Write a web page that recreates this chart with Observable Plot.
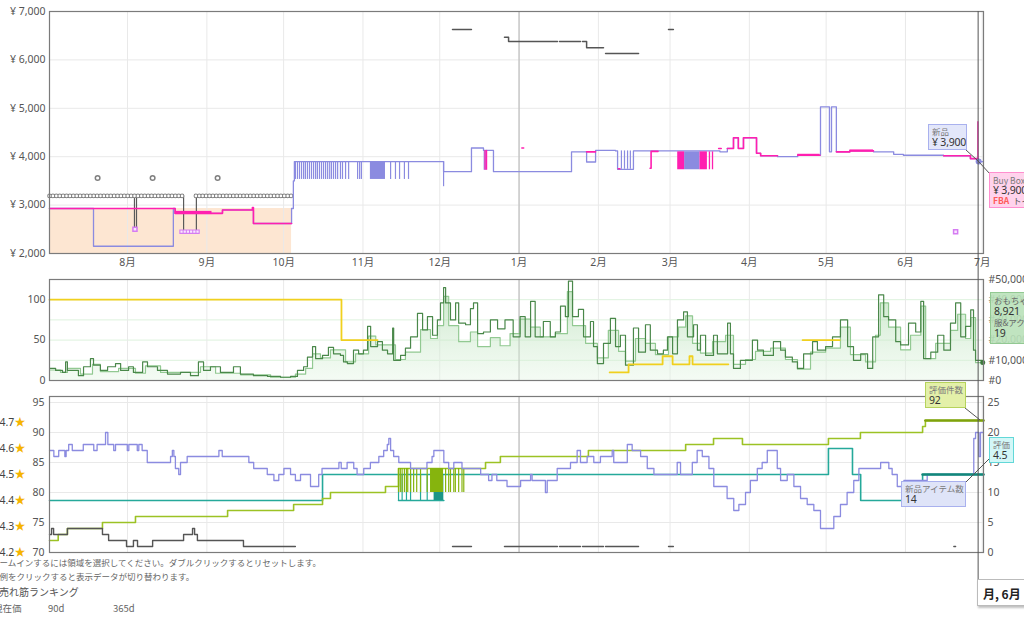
<!DOCTYPE html>
<html lang="ja">
<head>
<meta charset="utf-8">
<script src="https://cdn.jsdelivr.net/npm/d3@7"></script>
<script src="https://cdn.jsdelivr.net/npm/@observablehq/plot@0.6"></script>
<style>
html,body{margin:0;padding:0;background:#fff;}
#wrap{position:relative;width:1024px;height:617px;overflow:hidden;font-family:"Noto Sans","Noto Sans CJK JP",sans-serif;color:#555;}
.panel{position:absolute;left:0;z-index:1;}
.panel svg{display:block;overflow:visible;}
.tip{position:absolute;z-index:5;box-sizing:border-box;padding:1px 3px;line-height:11px;white-space:nowrap;overflow:hidden;font-family:"Noto Sans CJK JP","Noto Sans",sans-serif;}
.tip .k{font-size:8.5px;color:#7a7a7a;}
.tip .v{font-size:10.5px;color:#333;font-family:"Noto Sans","Noto Sans CJK JP",sans-serif;letter-spacing:-0.2px;}
.note{position:absolute;left:0;white-space:nowrap;font-family:"Noto Sans CJK JP",sans-serif;z-index:2;}
</style>
</head>
<body>
<div id="wrap">
  <div class="tip" style="left:928px;top:124px;width:39px;height:26px;background:#e3e7fa;border:1px solid #a9b1ee;"><div class="k">新品</div><div class="v">¥ 3,900</div></div>
  <div class="tip" style="left:989px;top:172px;width:60px;height:36px;padding-top:2px;line-height:10px;background:#ffd3ec;border:1px solid #ff8fcf;"><div class="k">Buy Box</div><div class="v">¥ 3,900</div><div style="font-size:8.5px;color:#555;"><b style="color:#ff5a5a;">FBA</b>&nbsp; トイ</div></div>
  <div class="tip" style="left:990px;top:292px;width:60px;height:52px;padding-top:2px;background:rgba(185,225,185,0.9);border:1px solid #93c993;"><div class="k" style="color:#666;">おもちゃ</div><div class="v">8,921</div><div class="k" style="color:#666;">服&amp;アク</div><div class="v">19</div></div>
  <div class="tip" style="left:925px;top:382px;width:41px;height:26px;background:#e3f0a9;border:1px solid #b6d35c;"><div class="k">評価件数</div><div class="v">92</div></div>
  <div class="tip" style="left:989px;top:437px;width:25px;height:26px;background:#d3f7f7;border:1px solid #62d8d8;"><div class="k">評価</div><div class="v">4.5</div></div>
  <div class="tip" style="left:901px;top:481px;width:65px;height:26px;background:#dfe4f8;border:1px solid #a9b1ee;"><div class="k">新品アイテム数</div><div class="v">14</div></div>
  <div class="tip" style="left:977px;top:579px;width:60px;height:27px;padding:0 0 0 5px;line-height:27px;background:#fff;border:1px solid #bbb;box-shadow:1px 2px 2px rgba(0,0,0,.25);font-weight:bold;font-size:12px;color:#222;">月, 6月</div>

  <div class="note" style="top:556px;left:-9px;font-size:8.5px;color:#666;">ズームインするには領域を選択してください。ダブルクリックするとリセットします。</div>
  <div class="note" style="top:570px;left:-9px;font-size:8.5px;color:#666;">凡例をクリックすると表示データが切り替わります。</div>
  <div class="note" style="top:584px;left:-1px;font-size:10px;color:#555;">売れ筋ランキング</div>
  <div class="note" style="top:601px;left:-7px;font-size:9.5px;color:#666;">現在価</div>
  <div class="note" style="top:601px;left:48px;font-size:9.5px;color:#666;">90d</div>
  <div class="note" style="top:601px;left:113px;font-size:9.5px;color:#666;">365d</div>
</div>
<script>
// ---- axes / ticks ----
const monthLabels = ["8月","9月","10月","11月","12月","1月","2月","3月","4月","5月","6月","7月"];
const monthStartDays = [31,62,92,123,153,184,215,243,274,304,335,365]; // days since 2022-07-01
const yearStartDay = 184;
const priceTicks = [2000,3000,4000,5000,6000,7000];
const countTicks = [0,50,100];
const rankGridTicks = [0,25,50,75,100,125];   // left units; 1 unit = 400 rank
const rankPerUnit = 400;
const reviewTicks = [70,75,80,85,90,95];
const starTicks = [4.2,4.3,4.4,4.5,4.6,4.7];
const crossDay = 363.6;

// ---- top panel: prices (day, yen) ----
const amazonPrice = [[0.5,2930],[95.1,2930]];
const newPrice = [[0.5,2930],[17.7,2150],[48.9,2930],[49.6,2830],[68.1,2900],[80.2,2620],[95.1,2930],[95.8,3500],[96.2,3900],[154.5,3690],[165.4,4180],[170.1,4130],[174,3690],[204.5,4100],[210.4,3890],[213.9,4130],[221.7,4120],[222.5,3740],[228.7,4120],[262.5,4100],[265.4,4170],[267.8,4390],[269.7,4170],[271.7,4390],[276.8,4070],[278.4,4020],[285,4000],[292.9,4030],[301.8,5030],[305.3,4100],[306.1,5030],[308,4100],[313.3,4120],[322.5,4100],[330.4,4050],[334.2,4030],[349.9,4020],[360.4,3960],[363.3,3900],[365.5,3900]];
const newDipDays = [96.6,97.4,98.2,99,99.8,100.5,101.3,102.1,102.9,103.7,104.5,105.2,106,106.8,107.6,108.4,109.2,110,110.7,111.5,112.3,113.1,114.2,115,116.2,117.4,120.9,121.7,122.4,133.8,135.7,137.3,139.2,140.8];
const newDipLow = 3530, newDipHigh = 3900;
const newSpikes = [[154.5,3380,3900],[224,3740,4120],[225.2,3740,4120],[226.4,3740,4120],[227.5,3740,4120],[170.4,3720,4130],[171,3720,4130]];
const newBlocks = [[125.9,131.8,3530,3900],[248.7,254.7,3730,4100]];
const buyBoxRuns = [[0.5,2930,0],[49.6,2830,0],[68.1,2900,0],[79.8,2950,0],[80.2,2620,0],[95.1,2620,0],
  [185.1,4180,1],[185.8,4180,1],
  [210.4,4100,2],[213.9,4100,2],
  [222.8,3750,3],[223.4,3750,3],
  [235.2,3760,4],[235.6,4110,4],[238.3,4110,4],
  [262,4170,5],[263,4170,5],
  [265.4,4170,6],[267.8,4390,6],[269.7,4170,6],[271.7,4390,6],[276.8,4070,6],[278.4,4020,6],[285,4020,6],
  [292.9,4030,7],[301.6,4030,7],
  [308,4100,8],[313.3,4120,8],[322.5,4120,8],
  [349.9,4020,9],[360.4,3960,9],[363.3,3960,9]];
const buyBoxBlocks = [[49.6,64,2805,2870],[246,248.7,3730,4100],[254.7,257.6,3730,4100],[292.9,301.6,4010,4050],[313.3,322.5,4100,4140]];
const buyBoxSpikes = [[170.7,3720,4130],[171.3,3720,4130],[258.4,3730,4100],[259.6,3730,4100],[363.3,3900,4720]];
const listPriceRuns = [[0.5,3190,0],[52.4,3190,0],[57.7,3190,1],[95.9,3190,1]];
const listPriceDips = [[33.7,2500,3190],[34.5,2500,3190],[52.9,2450,3190],[57.9,2450,3190]];
const listPriceSingles = [[19.3,3560],[40.8,3560],[66.2,3560]];
const warehouseRun = [[52.1,2450],[58.7,2450]];
const warehouseSingles = [[33.9,2500],[354.6,2450]];
const usedPriceRuns = [[158,6630,0],[165.4,6630,0],
  [178.3,6470,1],[179.9,6380,1],[199,6380,1],
  [199.8,6380,2],[208,6380,2],
  [208.8,6380,3],[210.4,6250,3],[217,6250,3],
  [217.8,6130,4],[230.7,6130,4],
  [242.4,6630,5],[244.3,6630,5]];

// ---- middle panel: sales rank (day, rank) and count (day, value) ----
const rankToys = [[0.5,6000],[2.9,5000],[5.6,4000],[6.8,9200],[7.5,5000],[11.8,2400],[13.8,6800],[16.5,10800],[17.7,7600],[20.4,5000],[23.2,6800],[26.3,8400],[28.3,5000],[31.4,6800],[33.3,4000],[36.9,9200],[38.8,6800],[42.7,5000],[46.6,3200],[51.7,4000],[55.6,2400],[58.7,9200],[60.7,5000],[63.4,6800],[67.3,4000],[72.4,6800],[75.1,3200],[80.2,2400],[85.7,2000],[90.8,1600],[94.7,2000],[97.4,5000],[99.8,6800],[101.3,11600],[103.3,16800],[104.5,10800],[107.2,12400],[109.5,16400],[111.5,13200],[114.2,12400],[115.4,9200],[116.9,8400],[119.3,15000],[121.3,13200],[123.2,15000],[124.8,26800],[126,16800],[128.7,19200],[130.6,15000],[132.6,13200],[134.6,26000],[135,10000],[137.7,12400],[139.6,16000],[141.6,21600],[144.3,33200],[146.3,25000],[148.2,31600],[150.2,22400],[152.1,30000],[153.3,38400],[154.5,46000],[155.3,38400],[157.2,30000],[159.2,38400],[160.4,28400],[163.1,27600],[165,35600],[166.2,38400],[167.8,23200],[170.1,24000],[172.8,30000],[175.6,25600],[178.5,30000],[181.7,21600],[184.4,31600],[186.4,21600],[188.5,39200],[190.3,21600],[193.5,29200],[196.2,21600],[198.2,24000],[200.2,36800],[202.1,31600],[203.3,49200],[204.9,31600],[207.2,35200],[209.2,21600],[211.9,29200],[213.1,16800],[214.6,8400],[217,18400],[219.7,30800],[221.7,16800],[223.6,22400],[225.6,7600],[228.7,26000],[230.7,14000],[233.4,27600],[235.3,15000],[238.1,13200],[240.4,15000],[242,21600],[244,13200],[245.9,30000],[248.3,34000],[249.8,21600],[252.2,27600],[253.7,15000],[254.9,22400],[256.9,12400],[260,22400],[261.5,13200],[265.5,28400],[266.6,13200],[267.8,6000],[270.5,10000],[275.2,20000],[277.2,15000],[279.5,12400],[283.4,19200],[286.2,15000],[288.1,11600],[290.8,9200],[292.8,6000],[295.2,13200],[298.7,19200],[300.6,15000],[303.8,16800],[306.5,21600],[309.6,30000],[312.4,16800],[314.7,10000],[317.5,13200],[320.2,6000],[322.2,21600],[324.5,42400],[326.5,31600],[328.4,30000],[331.2,19200],[333.1,17600],[336.2,28400],[339,24000],[341,39200],[342.1,10800],[344.9,14000],[347.6,22400],[350,15000],[352.6,28400],[354.6,38400],[356.6,21600],[358.5,26800],[360.5,35000],[361.6,15000],[362.4,10000],[365.1,8921],[365.5,8921]];
const rankApparel = [[0.5,5200],[4.8,4000],[7.5,6000],[12.6,3200],[17.3,8000],[20.4,4400],[27.5,6000],[34.1,3600],[38,7200],[43.9,4000],[59.5,6800],[65.4,3600],[75.2,2800],[86.9,1600],[96.6,3200],[100.6,6000],[103.3,13200],[106.4,11200],[110.3,15200],[116.2,9200],[120.1,13200],[125.2,22000],[128,17600],[135.7,10400],[139.6,14000],[145.5,25200],[149.4,20800],[152.1,27200],[154.5,41600],[156.5,27200],[160.4,19200],[165,24000],[167.8,16800],[172.8,21200],[176.6,17200],[180.5,23200],[184.4,30400],[188.5,26400],[192.3,21600],[198.2,23200],[202.9,44000],[204.9,27200],[210,18400],[214.6,11200],[218.9,24800],[222.9,14400],[225.6,9600],[229.5,20800],[233.4,18400],[237.3,12800],[242.4,21600],[246.3,26400],[249.1,32000],[251.8,18400],[254.9,13600],[259.6,19200],[264.7,22400],[267.8,8000],[272.5,10400],[276.4,14400],[282.3,16000],[288.1,10400],[292.8,5600],[297.9,14000],[303.8,16000],[309.6,26400],[313.5,12800],[319.4,9200],[323.3,22400],[325.2,38400],[328.4,26400],[333.1,15200],[337,22400],[341,36800],[342.9,10800],[346.8,18400],[352.6,24800],[355.4,32800],[358.5,20800],[360.5,31200],[362.4,8800],[365.5,10000]];
const countRuns = [[0.5,100,0],[114.6,50,0],[128.7,50,0],
  [219.4,10,1],[226.8,20,1],[240.1,30,1],[244,20,1],[250.6,30,1],[251.8,20,1],[265.8,20,1],
  [294.8,50,2],[309.3,50,2]];

// ---- bottom panel ----
const reviewCount = [[0.5,72],[3.9,73],[7.5,74],[21.2,75],[34.1,76],[70.1,77],[95.9,78],[107.2,79],[110.3,80],[131.8,81],[136.9,84],[170.9,85],[176.7,86],[211.1,87],[249.1,88],[260,89],[271.3,88],[304.9,89],[317.4,90],[341.7,91],[342.8,92],[365.5,92]];
const reviewFlickerDays = [136.9,137.6,138.3,139.2,140,140.5,141.6,142.8,144,145.5,148.1,155.3,156.5,157.2,158.5,159.1,160.4,161.7,162.4];
const reviewFlickerBlock = [[149.4,154.5,80,84]];
const rating = [[0.5,4.4],[107.2,4.5],[304.9,4.6],[314.3,4.5],[317.5,4.4],[341.7,4.5],[365.5,4.5]];
const ratingLowRun = [[136.9,4.4],[154.6,4.4]];
const ratingFlickerDays = [136.9,138.3,140,141.6,145.5,148.1];
const ratingFlickerBlock = [[150.8,154.6,4.4,4.5]];
const newOfferCount = [[0.5,17],[2.2,16],[4.1,17],[6.5,16],[7,17],[8,18],[9.4,17],[13.7,18],[17.8,17],[19.1,18],[22.4,20],[23.3,18],[25.6,17],[26.3,18],[30.9,17],[31.5,18],[34.8,17],[35.4,18],[36.7,17],[38.7,15],[47.8,16],[48.5,17],[49.1,16],[49.7,14],[51,13],[51.7,15],[54.3,16],[66.7,17],[68,16],[78.4,15],[80.3,14],[85.6,13],[88.2,12],[90.1,13],[92.1,14],[94.7,13],[96.6,12],[98.6,13],[102.5,11],[105.7,13],[107,14],[113.6,15],[114.5,14],[116.8,15],[119.4,14],[120.7,13],[123.3,14],[125.9,15],[129.2,16],[131.1,17],[132.5,18],[133.1,19],[133.8,17],[135,16],[137,15],[141.6,14],[148,15],[150,16],[150.7,17],[154.6,15],[156.5,14],[158.5,15],[161.7,14],[169,13],[172.1,12],[173.4,13],[175.3,12],[179.3,11],[184.6,12],[188.5,13],[189.1,12],[194.3,10],[195,12],[198.9,14],[204.1,15],[206.7,17],[208,15],[210.6,16],[213.2,15],[215.8,16],[220.4,17],[221,15],[226.3,18],[228.2,17],[231.5,16],[234.1,14],[236.7,13],[245.8,15],[247.1,13],[251.7,15],[253.6,17],[255.6,16],[258.2,14],[260.1,11],[265.3,9],[267.9,7],[269.9,8],[272.5,10],[274.4,12],[277.1,14],[279,15],[281,17],[284.9,14],[286.2,12],[288.8,13],[291.4,11],[294,9],[296.6,8],[299.2,7],[301.8,4],[307,6],[309.6,8],[312.2,10],[314.8,12],[316.8,14],[325.3,15],[328.5,14],[329.8,13],[331.8,11],[334.4,12],[343.5,13],[361.7,19],[362.4,20],[363.7,16],[364.3,20],[365.5,20]];
const usedOfferRuns = [[0.5,3,0],[1.3,4,0],[2.1,3,0],[7.5,4,0],[21.2,3,0],[23.6,2,0],[30.6,1,0],[33.3,2,0],[34.9,1,0],[40.8,2,0],[52.9,3,0],[56.4,4,0],[57.2,3,0],[58.3,2,0],[76.3,1,0],[96.6,1,0],
  [158,1,1],[165.4,1,1],[178.3,1,2],[199,1,2],[199.8,1,3],[208,1,3],[208.8,1,4],[217,1,4],[217.8,1,5],[230.7,1,5],[242.4,1,6],[244.3,1,6],[353.9,1,7],[354.6,1,7]];

// ---- helpers ----
const X0 = Date.UTC(2022, 6, 1);
const D = d => new Date(X0 + d * 864e5);
const P = d => D(d[0]);
const V = d => d[1];
const monthDates = monthStartDays.map(D);
const monthFmt = d => monthLabels[monthDates.findIndex(t => +t === +d)];
const xScale = {type: "utc", domain: [D(0.5), D(365.5)], axis: null};
const baseStyle = {background: "transparent", fontFamily: "'Noto Sans','Noto Sans CJK JP',sans-serif", fontSize: "10.5px", color: "#555", overflow: "visible"};
const gridX = () => [Plot.ruleX(monthDates, {stroke: "#e9e9e9"}), Plot.ruleX([D(yearStartDay)], {stroke: "#b3b3b3"})];
const C = {blue: "#8b8be0", pink: "#ff1fb0", green: "#9cc224", teal: "#25a99a", gray: "#555", dkGreen: "#4a884a", ltGreen: "#92c992", yellow: "#f0d01e"};

// ---- top ----
const topPlot = Plot.plot({
  width: 1024, height: 275, marginLeft: 49, marginRight: 41, marginTop: 11, marginBottom: 22,
  x: xScale, y: {domain: [2000, 7000], axis: null}, style: baseStyle,
  marks: [
    Plot.areaY(amazonPrice, {x: P, y1: 2000, y2: V, curve: "step-after", fill: "#fde6d2"}),
    Plot.ruleY(priceTicks, {stroke: "#e9e9e9"}),
    ...gridX(),
    Plot.ruleX(listPriceDips, {x: P, y1: d => d[1], y2: d => d[2], stroke: "#5a5a5a", strokeWidth: 1.2}),
    Plot.line(listPriceRuns, {x: P, y: V, z: d => d[2], stroke: "#808080", strokeWidth: 4.6, strokeDasharray: "0 3.4", strokeLinecap: "round"}),
    Plot.line(listPriceRuns, {x: P, y: V, z: d => d[2], stroke: "#fff", strokeWidth: 2.6, strokeDasharray: "0 3.4", strokeLinecap: "round"}),
    Plot.dot(listPriceSingles, {x: P, y: V, r: 2.3, stroke: "#808080", fill: "#fff"}),
    Plot.line(newPrice, {x: P, y: V, curve: "step-after", stroke: C.blue, strokeWidth: 1.3}),
    Plot.ruleX(newDipDays, {x: d => D(d), y1: newDipLow, y2: newDipHigh, stroke: C.blue, strokeWidth: 1.2}),
    Plot.ruleX(newSpikes, {x: P, y1: d => d[1], y2: d => d[2], stroke: C.blue, strokeWidth: 1.2}),
    Plot.rect(newBlocks, {x1: P, x2: d => D(d[1]), y1: d => d[2], y2: d => d[3], fill: C.blue}),
    Plot.line(buyBoxRuns, {x: P, y: V, z: d => d[2], curve: "step-after", stroke: C.pink, strokeWidth: 1.6}),
    Plot.rect(buyBoxBlocks, {x1: P, x2: d => D(d[1]), y1: d => d[2], y2: d => d[3], fill: C.pink}),
    Plot.ruleX(buyBoxSpikes, {x: P, y1: d => d[1], y2: d => d[2], stroke: C.pink, strokeWidth: 1.3}),
    Plot.line(usedPriceRuns, {x: P, y: V, z: d => d[2], curve: "step-after", stroke: "#555", strokeWidth: 1.5}),
    Plot.line(warehouseRun, {x: P, y: V, stroke: "#d57cf2", strokeWidth: 4.4, strokeDasharray: "0 3.2", strokeLinecap: "square"}),
    Plot.line(warehouseRun, {x: P, y: V, stroke: "#f9e6ff", strokeWidth: 2.2, strokeDasharray: "0 3.2", strokeLinecap: "square"}),
    Plot.dot(warehouseSingles, {x: P, y: V, symbol: "square", r: 2.3, stroke: "#d57cf2", fill: "#f9e6ff"}),
    Plot.dot([[crossDay, 3900]], {x: P, y: V, r: 3, fill: C.blue}),
    Plot.axisY(priceTicks, {anchor: "left", tickSize: 0, tickPadding: 4, tickFormat: d => "¥ " + d3.format(",")(d)}),
    Plot.axisX(monthDates, {anchor: "bottom", tickSize: 0, tickPadding: 5, tickFormat: monthFmt}),
    Plot.frame({stroke: "#7b7b7b", strokeWidth: 1.2})
  ]
});

// ---- middle ----
const rk = d => d[1] / rankPerUnit;
const midPlot = Plot.plot({
  width: 1024, height: 117, marginLeft: 49, marginRight: 41, marginTop: 4, marginBottom: 12,
  x: xScale, y: {domain: [0, 125], axis: null}, style: baseStyle,
  marks: [
    Plot.ruleY([25, 50, 75, 100], {stroke: "#ddf2dd"}),
    ...gridX(),
    Plot.areaY(rankApparel, {x: P, y: rk, curve: "step-after", fill: "url(#rankGrad)"}),
    Plot.line(rankApparel, {x: P, y: rk, curve: "step-after", stroke: C.ltGreen, strokeWidth: 1.2}),
    Plot.line(rankToys, {x: P, y: rk, curve: "step-after", stroke: C.dkGreen, strokeWidth: 1.2}),
    Plot.line(countRuns, {x: P, y: V, z: d => d[2], curve: "step-after", stroke: C.yellow, strokeWidth: 1.8}),
    Plot.dot([[365.2, 8921]], {x: P, y: rk, r: 2.5, fill: "#3d7a3d"}),
    Plot.axisY(countTicks, {anchor: "left", tickSize: 0, tickPadding: 4}),
    Plot.axisY(rankGridTicks, {anchor: "right", tickSize: 0, tickPadding: 5, tickFormat: d => "#" + d3.format(",")(d * rankPerUnit)}),
    Plot.frame({stroke: "#7b7b7b", strokeWidth: 1.2})
  ]
});
d3.select(midPlot).insert("defs", ":first-child").html('<linearGradient id="rankGrad" x1="0" y1="0" x2="0" y2="1"><stop offset="0" stop-color="#a9d9a9" stop-opacity="0.6"/><stop offset="1" stop-color="#e4f5e4" stop-opacity="0.4"/></linearGradient>');

// ---- bottom ----
const cnt = n => 70 + n;
const star = r => 70 + (r - 4.2) * 260 / 6;
const botPlot = Plot.plot({
  width: 1024, height: 170, marginLeft: 49, marginRight: 41, marginTop: 4, marginBottom: 10,
  x: xScale, y: {domain: [70, 96], axis: null}, style: baseStyle,
  marks: [
    Plot.ruleY(reviewTicks, {stroke: "#e9e9e9"}),
    ...gridX(),
    Plot.line(rating, {x: P, y: d => star(d[1]), curve: "step-after", stroke: C.teal, strokeWidth: 1.6}),
    Plot.line(ratingLowRun, {x: P, y: d => star(d[1]), stroke: C.teal, strokeWidth: 1.6}),
    Plot.ruleX(ratingFlickerDays, {x: d => D(d), y1: star(4.4), y2: star(4.5), stroke: C.teal, strokeWidth: 1.2}),
    Plot.rect(ratingFlickerBlock, {x1: P, x2: d => D(d[1]), y1: d => star(d[2]), y2: d => star(d[3]), fill: "#1b9688"}),
    Plot.line(reviewCount, {x: P, y: V, curve: "step-after", stroke: C.green, strokeWidth: 1.6}),
    Plot.ruleX(reviewFlickerDays, {x: d => D(d), y1: 80, y2: 84, stroke: "#86b40e", strokeWidth: 1.2}),
    Plot.rect(reviewFlickerBlock, {x1: P, x2: d => D(d[1]), y1: d => d[2], y2: d => d[3], fill: "#86b40e"}),
    Plot.line(newOfferCount, {x: P, y: d => cnt(d[1]), curve: "step-after", stroke: C.blue, strokeWidth: 1.3}),
    Plot.line(usedOfferRuns, {x: P, y: d => cnt(d[1]), z: d => d[2], curve: "step-after", stroke: "#555", strokeWidth: 1.4}),
    Plot.line(reviewCount.slice(-2), {x: P, y: V, stroke: "#7fa20c", strokeWidth: 2.6}),
    Plot.line(rating.slice(-2), {x: P, y: d => star(d[1]), stroke: "#12877a", strokeWidth: 2.6}),
    Plot.axisY(reviewTicks, {anchor: "left", tickSize: 0, tickPadding: 5}),
    Plot.axisY(reviewTicks, {anchor: "right", tickSize: 0, tickPadding: 4, tickFormat: d => String(d - 70)}),
    Plot.text(starTicks, {frameAnchor: "left", y: star, text: d => d.toFixed(1), dx: -50, textAnchor: "start", fill: "#444"}),
    Plot.text(starTicks, {frameAnchor: "left", y: star, text: () => "★", dx: -35, textAnchor: "start", fill: "#f5b400", fontSize: 11}),
    Plot.frame({stroke: "#7b7b7b", strokeWidth: 1.2})
  ]
});

const wrap = document.getElementById("wrap");
function place(el, top) {
  const div = document.createElement("div");
  div.className = "panel";
  div.style.top = top + "px";
  div.appendChild(el);
  wrap.appendChild(div);
}
place(topPlot, 0);
place(midPlot, 275);
place(botPlot, 392);

// crosshair & tooltip connectors
const cx = topPlot.scale("x").apply(D(crossDay));
const ov = d3.select(wrap).append("svg").attr("width", 1024).attr("height", 617)
  .style("position", "absolute").style("left", 0).style("top", 0).style("z-index", 4).style("pointer-events", "none");
ov.append("line").attr("x1", cx).attr("x2", cx).attr("y1", 11).attr("y2", 606).attr("stroke", "#555").attr("stroke-width", 1);
const py = topPlot.scale("y").apply(3900);
ov.append("line").attr("x1", 966).attr("y1", 150).attr("x2", cx).attr("y2", py).attr("stroke", "#555");
ov.append("line").attr("x1", cx).attr("y1", py).attr("x2", 990).attr("y2", 174).attr("stroke", "#555");
ov.append("line").attr("x1", 965).attr("y1", 408).attr("x2", cx + 2).attr("y2", 392 + botPlot.scale("y").apply(92)).attr("stroke", "#555");
ov.append("line").attr("x1", 989).attr("y1", 459).attr("x2", 966).attr("y2", 482).attr("stroke", "#555");
</script>
</body>
</html>
